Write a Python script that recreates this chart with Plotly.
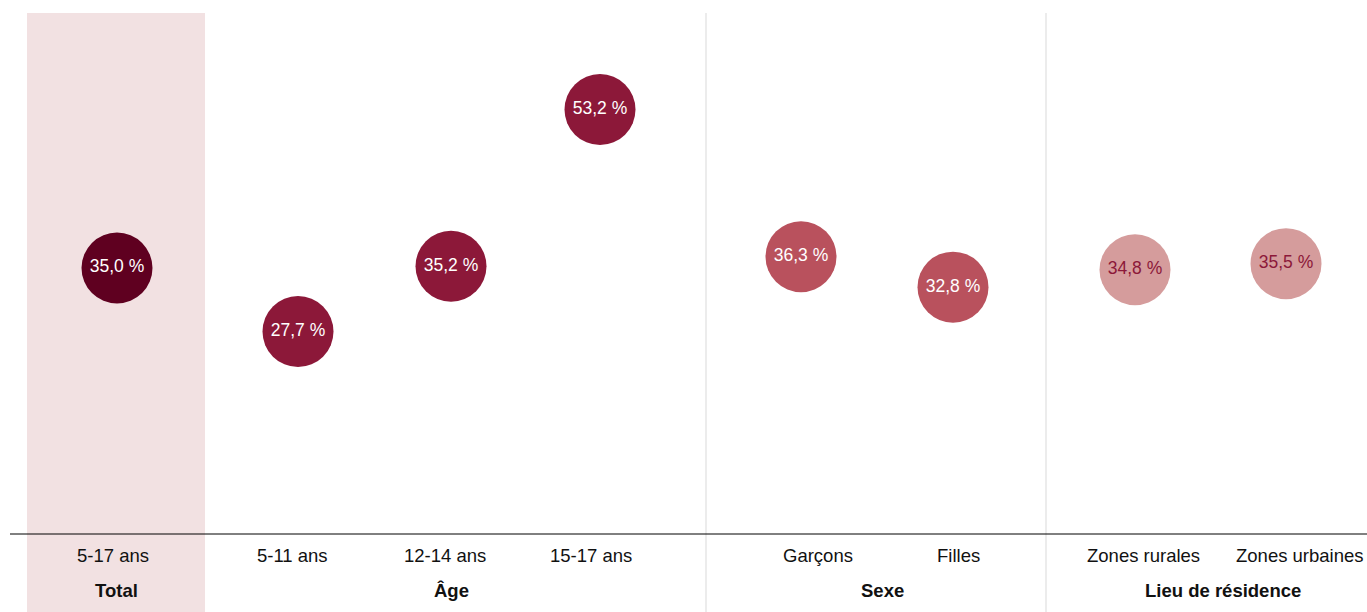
import plotly.graph_objects as go

# Data
categories = ["5-17 ans", "5-11 ans", "12-14 ans", "15-17 ans", "Garçons", "Filles", "Zones rurales", "Zones urbaines"]
values = [35.0, 27.7, 35.2, 53.2, 36.3, 32.8, 34.8, 35.5]
groups = ["Total", "Âge", "Âge", "Âge", "Sexe", "Sexe", "Lieu de résidence", "Lieu de résidence"]
group_labels = ["Total", "Âge", "Sexe", "Lieu de résidence"]

# Layout (pixel-like x coordinates)
x_pos = [117, 298, 451, 600, 801, 953, 1135, 1286]
label_x = [112.5, 292, 444.5, 591, 817.5, 958.5, 1143.5, 1299.5]
group_x = [116.5, 451, 882, 1223]
group_colors = {"Total": "#5f0020", "Âge": "#8c1839", "Sexe": "#b9515d", "Lieu de résidence": "#d59c9c"}
text_colors = {"Total": "#ffffff", "Âge": "#ffffff", "Sexe": "#ffffff", "Lieu de résidence": "#8c1839"}

def fmt(v):
    return f"{v:.1f}".replace(".", ",") + " %"

FONT = "Liberation Sans, Arial, Helvetica, sans-serif"

fig = go.Figure()
fig.add_trace(go.Scatter(
    x=x_pos, y=values, mode="markers+text",
    marker=dict(size=71, color=[group_colors[g] for g in groups], line=dict(width=0)),
    text=[fmt(v) for v in values], textposition="middle center",
    textfont=dict(size=17.5, color=[text_colors[g] for g in groups], family=FONT),
    hoverinfo="skip", showlegend=False, cliponaxis=False,
))

H = 521.0
ybot = -(612 - 534) / H
shapes = [
    dict(type="rect", xref="x", yref="paper", x0=27, x1=205, y0=ybot, y1=1,
         fillcolor="#f2e1e2", line=dict(width=0), layer="below"),
    dict(type="line", xref="x", yref="paper", x0=706, x1=706, y0=ybot, y1=1,
         line=dict(color="#d9d9d9", width=1), layer="below"),
    dict(type="line", xref="x", yref="paper", x0=1046, x1=1046, y0=ybot, y1=1,
         line=dict(color="#d9d9d9", width=1), layer="below"),
    dict(type="line", xref="x", yref="paper", x0=10, x1=1367, y0=0, y1=0,
         line=dict(color="#000000", width=1), layer="above"),
]

annotations = []
for c, x in zip(categories, label_x):
    annotations.append(dict(x=x, y=-(555 - 534) / H, xref="x", yref="paper", text=c, showarrow=False,
                            font=dict(size=18.5, color="#111111", family=FONT), xanchor="center", yanchor="middle"))
for g, x in zip(group_labels, group_x):
    annotations.append(dict(x=x, y=-(590 - 534) / H, xref="x", yref="paper", text=f"<b>{g}</b>", showarrow=False,
                            font=dict(size=18.5, color="#111111", family=FONT), xanchor="center", yanchor="middle"))

fig.update_layout(
    width=1367, height=612,
    margin=dict(l=0, r=0, t=13, b=78),
    paper_bgcolor="white", plot_bgcolor="rgba(0,0,0,0)",
    xaxis=dict(range=[0, 1367], visible=False, fixedrange=True),
    yaxis=dict(range=[4.45, 64.29], visible=False, fixedrange=True),
    shapes=shapes, annotations=annotations,
    font=dict(family=FONT),
)

fig.write_html("out.html", config={"displayModeBar": False},
               post_script="document.body.style.margin='0';document.body.style.overflow='hidden';")
